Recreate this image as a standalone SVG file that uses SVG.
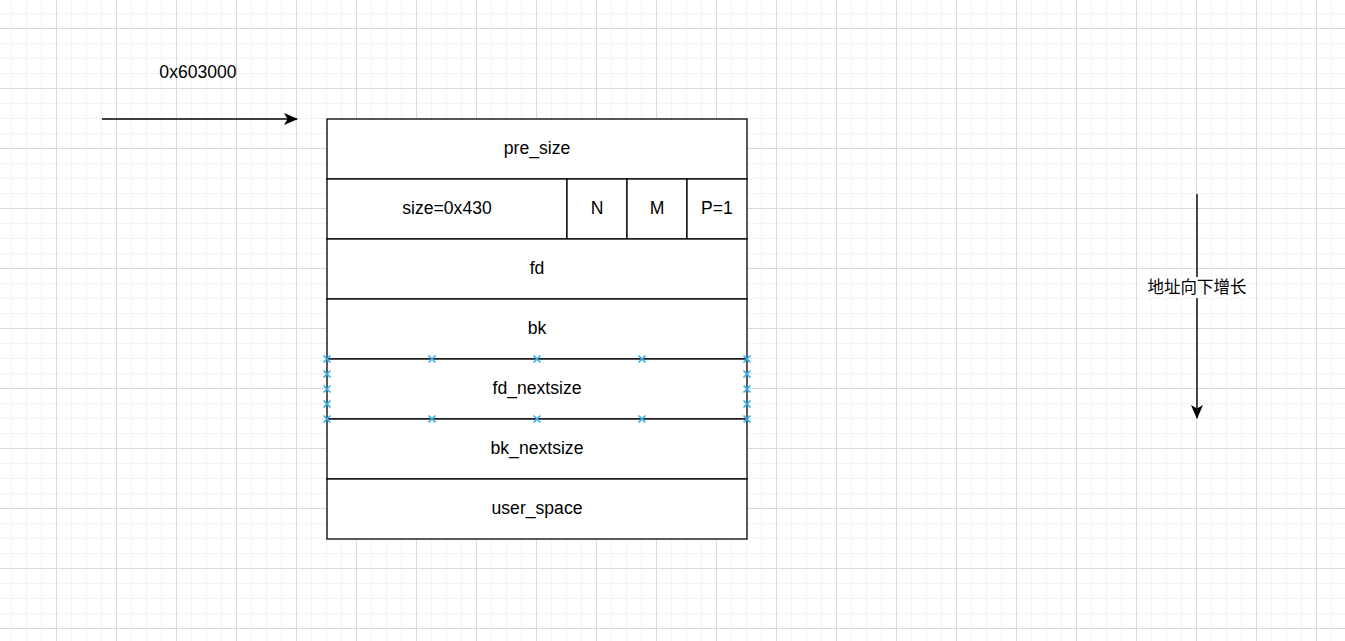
<svg xmlns="http://www.w3.org/2000/svg" width="1345" height="641" viewBox="0 0 1345 641">
<style>
.cell{fill:#ffffff;stroke:#000000;stroke-width:1.3}
.lbl{font-family:"Liberation Sans",Arial,"Noto Sans CJK SC",sans-serif;font-size:17.6px;fill:#000000;text-anchor:middle;dominant-baseline:central}
.edge{stroke:#000000;stroke-width:1.4;fill:none}
.pt{stroke:#2fb0ee;stroke-width:1.6;fill:none}
</style>
<defs>
<pattern id="grid" patternUnits="userSpaceOnUse" x="56" y="28" width="60" height="60">
<rect x="0" y="0" width="60" height="60" fill="#ffffff"/>
<rect x="15" y="0" width="1" height="60" fill="#f3f3f3"/>
<rect x="30" y="0" width="1" height="60" fill="#f3f3f3"/>
<rect x="45" y="0" width="1" height="60" fill="#f3f3f3"/>
<rect x="0" y="15" width="60" height="1" fill="#f3f3f3"/>
<rect x="0" y="30" width="60" height="1" fill="#f3f3f3"/>
<rect x="0" y="45" width="60" height="1" fill="#f3f3f3"/>
<rect x="0" y="0" width="1" height="60" fill="#dadada"/>
<rect x="0" y="0" width="60" height="1" fill="#dadada"/>
</pattern>
<marker id="arr" viewBox="0 0 14 12" refX="13" refY="6" markerWidth="14" markerHeight="12" markerUnits="userSpaceOnUse" orient="auto">
<path d="M0,0 L14,6 L0,12 L3.5,6 Z" fill="#000000"/>
</marker>
<g id="x"><path class="pt" d="M-3.5,-3.5 L3.5,3.5 M-3.5,3.5 L3.5,-3.5"/></g>
</defs>
<rect x="0" y="0" width="1345" height="641" fill="url(#grid)"/>

<g id="connectors">
<line class="edge" x1="102" y1="119" x2="297" y2="119" marker-end="url(#arr)"/>
<line class="edge" x1="1197" y1="194" x2="1197" y2="418" marker-end="url(#arr)"/>
</g>

<g id="addr-label"><text class="lbl" x="198" y="72">0x603000</text></g>

<g id="pre_size"><rect class="cell" x="327" y="119" width="420" height="60"/><text class="lbl" x="537" y="148">pre_size</text></g>
<g id="size"><rect class="cell" x="327" y="179" width="240" height="60"/><text class="lbl" x="447" y="208">size=0x430</text></g>
<g id="N"><rect class="cell" x="567" y="179" width="60" height="60"/><text class="lbl" x="597" y="208">N</text></g>
<g id="M"><rect class="cell" x="627" y="179" width="60" height="60"/><text class="lbl" x="657" y="208">M</text></g>
<g id="P"><rect class="cell" x="687" y="179" width="60" height="60"/><text class="lbl" x="717" y="208">P=1</text></g>
<g id="fd"><rect class="cell" x="327" y="239" width="420" height="60"/><text class="lbl" x="537" y="268">fd</text></g>
<g id="bk"><rect class="cell" x="327" y="299" width="420" height="60"/><text class="lbl" x="537" y="328">bk</text></g>
<g id="fd_nextsize"><rect class="cell" x="327" y="359" width="420" height="60"/><text class="lbl" x="537" y="388">fd_nextsize</text></g>
<g id="bk_nextsize"><rect class="cell" x="327" y="419" width="420" height="60"/><text class="lbl" x="537" y="448">bk_nextsize</text></g>
<g id="user_space"><rect class="cell" x="327" y="479" width="420" height="60"/><text class="lbl" x="537" y="508">user_space</text></g>

<g id="connection-points">
<use href="#x" x="327" y="359"/><use href="#x" x="432" y="359"/><use href="#x" x="537" y="359"/><use href="#x" x="642" y="359"/><use href="#x" x="747" y="359"/>
<use href="#x" x="327" y="419"/><use href="#x" x="432" y="419"/><use href="#x" x="537" y="419"/><use href="#x" x="642" y="419"/><use href="#x" x="747" y="419"/>
<use href="#x" x="327" y="374"/><use href="#x" x="327" y="389"/><use href="#x" x="327" y="404"/>
<use href="#x" x="747" y="374"/><use href="#x" x="747" y="389"/><use href="#x" x="747" y="404"/>
</g>

<g id="direction-label">
<rect x="1147" y="277" width="100" height="21" fill="#ffffff"/>
<text class="lbl" x="1197" y="287" style="font-size:16.5px">地址向下增长</text>
</g>
</svg>
